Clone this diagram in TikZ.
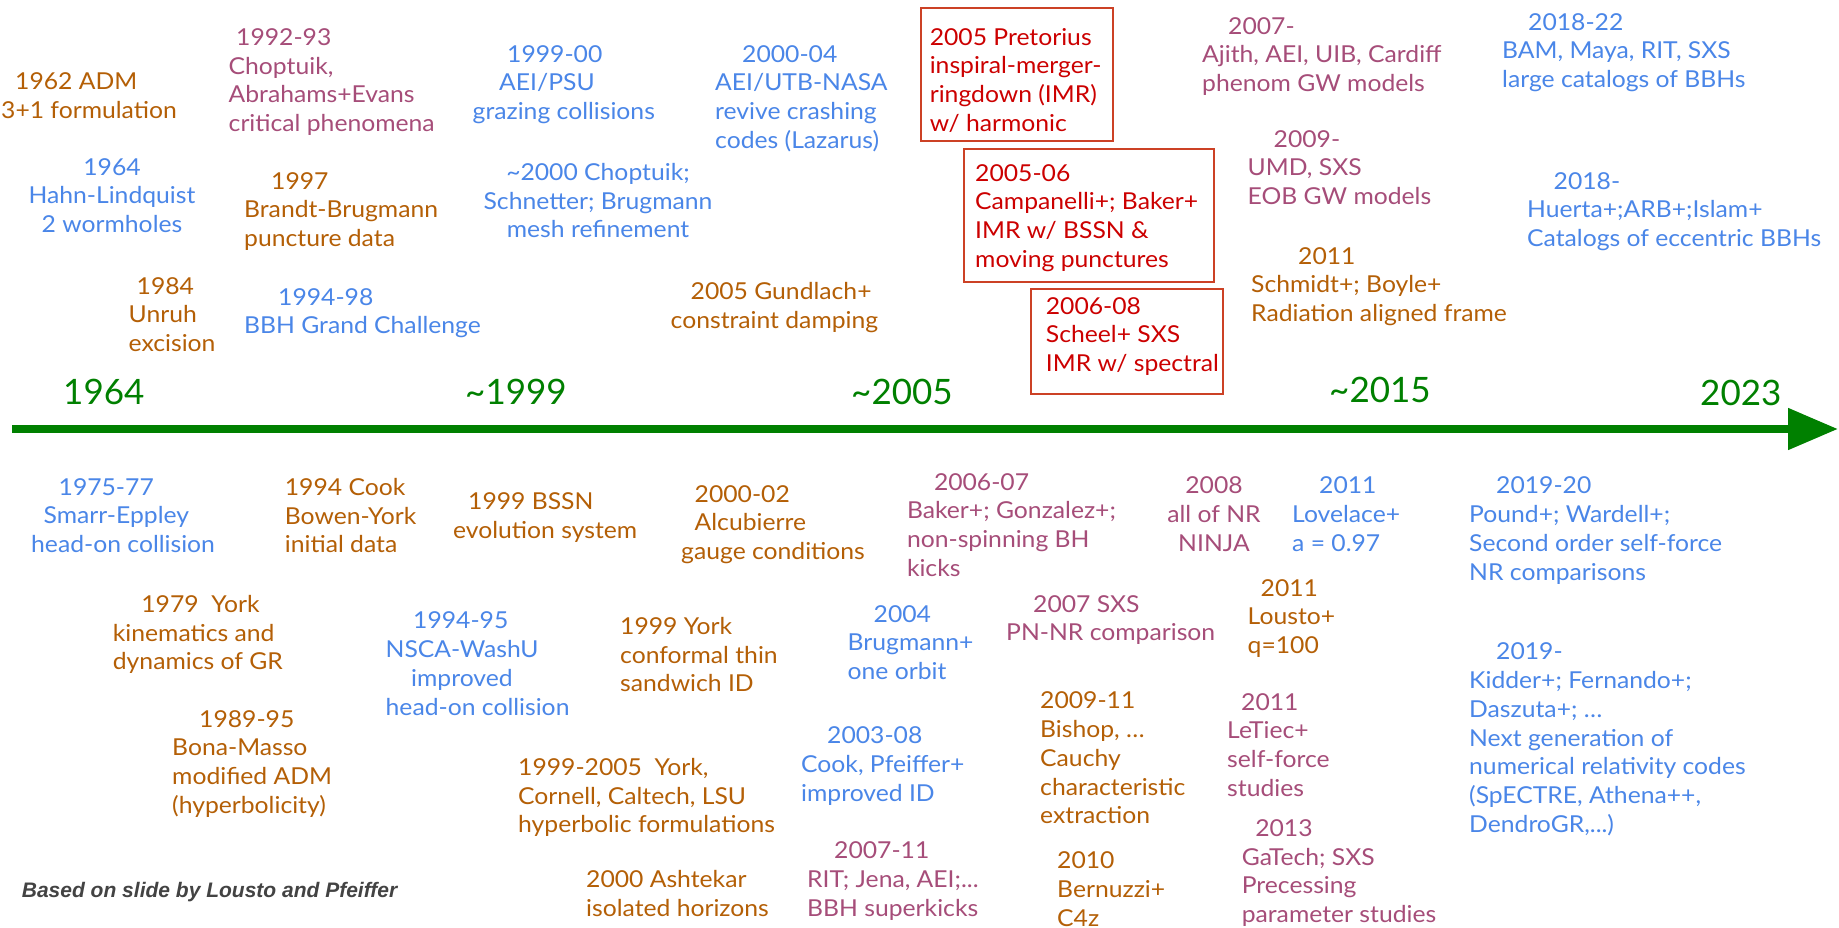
\documentclass[tikz,border=0pt]{standalone}
\usepackage{fontspec}
\setmainfont{Lato}
\newfontfamily\evtfamily{Lato}[FakeStretch=1.06]
\newfontfamily\creditfont{Liberation Sans}
\usepackage{xcolor}
\usepackage{tikz}
\usetikzlibrary{arrows.meta}
\definecolor{nrorange}{HTML}{B45F06}
\definecolor{nrblue}{HTML}{4A86E8}
\definecolor{nrmagenta}{HTML}{A64D79}
\definecolor{nrred}{HTML}{CC0000}
\definecolor{nrframe}{HTML}{CC4125}
\definecolor{nrgreen}{HTML}{008000}
\definecolor{nrgray}{HTML}{434343}
\newcommand{\evtfont}{\evtfamily\fontsize{23.3}{28.8}\selectfont}
\newcommand{\erafont}{\fontsize{35}{40}\selectfont}
\newcommand{\ind}[1]{\hspace*{#1pt}}

\begin{document}
\begin{tikzpicture}[x=1pt, y=-1pt,
    evt/.style={anchor=north west, inner sep=0pt, align=left, text=#1, font=\evtfont},
    evtc/.style={evt=#1, anchor=north, align=center},
    era/.style={anchor=north west, inner sep=0pt, text=nrgreen, font=\erafont},
    imrbox/.style={draw=nrframe, line width=1.8pt, anchor=north west, inner sep=0pt},
]
    \fill[white] (0,0) rectangle (1839,928);
    \useasboundingbox (0,0) rectangle (1839,928);

    % time axis
    \coordinate (tstart) at (12,429);
    \coordinate (tend) at (1838,429);
    \draw[line width=8pt, nrgreen, -{Triangle[length=50pt, width=40pt]}] (tstart) -- (tend);
    \node[era] (era1964) at (63,379) {1964};
    \node[era] (era1999) at (465,379) {\textasciitilde1999};
    \node[era] (era2005) at (851,379) {\textasciitilde2005};
    \node[era] (era2015) at (1329,377) {\textasciitilde2015};
    \node[era] (era2023) at (1700,380) {2023};

    % above the axis
    \node[evt=nrorange] (adm) at (1,72.7) {\ind{14}1962 ADM\\3+1 formulation};
    \node[evtc=nrblue] (hahn) at (112,158) {1964\\Hahn-Lindquist\\2 wormholes};
    \node[evt=nrorange] (unruh) at (128.5,277) {\ind{8}1984\\Unruh\\excision};
    \node[evt=nrmagenta] (choptuik) at (228.5,28.3) {\ind{7.5}1992-93\\Choptuik,\\Abrahams+Evans\\critical phenomena};
    \node[evt=nrorange] (puncture) at (244,172) {\ind{27}1997\\Brandt-Brugmann\\puncture data};
    \node[evt=nrblue] (grand) at (244,288) {\ind{34}1994-98\\BBH Grand Challenge};
    \node[evt=nrblue] (grazing) at (472.5,45) {\ind{34.5}1999-00\\\ind{26.5}AEI/PSU\\grazing collisions};
    \node[evtc=nrblue] (mesh) at (598,163) {\textasciitilde2000 Choptuik;\\Schnetter; Brugmann\\mesh refinement};
    \node[evt=nrblue] (lazarus) at (715,45) {\ind{27}2000-04\\AEI/UTB-NASA\\revive crashing\\codes (Lazarus)};
    \node[evt=nrorange] (damping) at (670.5,282) {\ind{20}2005 Gundlach+\\constraint damping};

    % breakthrough boxes
    \node[imrbox, minimum width=192pt, minimum height=133pt] (pretframe) at (920,7) {};
    \node[evt=nrred] (pretorius) at (929.6,28) {2005 Pretorius\\inspiral-merger-\\ringdown (IMR)\\w/ harmonic};
    \node[imrbox, minimum width=250pt, minimum height=133pt] (punctframe) at (963,148) {};
    \node[evt=nrred] (moving) at (975,164) {2005-06\\Campanelli+; Baker+\\IMR w/ BSSN \&\\moving punctures};
    \node[imrbox, minimum width=192pt, minimum height=105pt] (specframe) at (1030,288) {};
    \node[evt=nrred] (spectral) at (1045.7,297) {2006-08\\Scheel+ SXS\\IMR w/ spectral};

    \node[evt=nrmagenta] (phenom) at (1202,17) {\ind{26}2007-\\Ajith, AEI, UIB, Cardiff\\phenom GW models};
    \node[evt=nrmagenta] (eob) at (1247.5,130) {\ind{26}2009-\\UMD, SXS\\EOB GW models};
    \node[evt=nrorange] (frame) at (1251,247) {\ind{47}2011\\Schmidt+; Boyle+\\Radiation aligned frame};
    \node[evt=nrblue] (catalogs) at (1502,13) {\ind{26}2018-22\\BAM, Maya, RIT, SXS\\large catalogs of BBHs};
    \node[evt=nrblue] (eccentric) at (1527,172) {\ind{26.5}2018-\\Huerta+;ARB+;Islam+\\Catalogs of eccentric BBHs};

    % below the axis
    \node[evt=nrblue] (smarr) at (31,478) {\ind{27.5}1975-77\\\ind{12.5}Smarr-Eppley\\head-on collision};
    \node[evt=nrorange] (cook) at (284.7,478) {1994 Cook\\Bowen-York\\initial data};
    \node[evt=nrorange] (bssn) at (453,492.7) {\ind{15}1999 BSSN\\evolution system};
    \node[evt=nrorange] (york) at (112.7,595) {\ind{28.5}1979\ \ York\\kinematics and\\dynamics of GR};
    \node[evt=nrblue] (washu) at (385.5,611.7) {\ind{27.5}1994-95\\NSCA-WashU\\\ind{25.5}improved\\head-on collision};
    \node[evt=nrorange] (bona) at (172,710) {\ind{27}1989-95\\Bona-Masso\\modified ADM\\(hyperbolicity)};
    \node[evt=nrorange] (hyper) at (518,758) {1999-2005\ \ York,\\Cornell, Caltech, LSU\\hyperbolic formulations};
    \node[evt=nrorange] (ashtekar) at (586,870) {2000 Ashtekar\\isolated horizons};
    \node[evt=nrorange] (gauge) at (681,485) {\ind{13.5}2000-02\\\ind{13.5}Alcubierre\\gauge conditions};
    \node[evt=nrmagenta] (kicks) at (906.8,473) {\ind{27}2006-07\\Baker+; Gonzalez+;\\non-spinning BH\\kicks};
    \node[evtc=nrmagenta] (ninja) at (1214,476.7) {2008\\all of NR\\NINJA};
    \node[evt=nrorange] (sandwich) at (620,617) {1999 York\\conformal thin\\sandwich ID};
    \node[evt=nrblue] (orbit) at (847.5,605) {\ind{26}2004\\Brugmann+\\one orbit};
    \node[evt=nrmagenta] (pnnr) at (1006,595) {\ind{27}2007 SXS\\PN-NR comparison};
    \node[evt=nrblue] (improved) at (801,726.7) {\ind{26}2003-08\\Cook, Pfeiffer+\\improved ID};
    \node[evt=nrorange] (cauchy) at (1040,691.7) {2009-11\\Bishop, …\\Cauchy\\characteristic\\extraction};
    \node[evt=nrmagenta] (superkicks) at (807,841.7) {\ind{27}2007-11\\RIT; Jena, AEI;...\\BBH superkicks};
    \node[evt=nrorange] (cfour) at (1057,851.7) {2010\\Bernuzzi+\\C4z};
    \node[evt=nrblue] (lovelace) at (1292,476.7) {\ind{27}2011\\Lovelace+\\a = 0.97};
    \node[evt=nrorange] (lousto) at (1247.5,579) {\ind{13}2011\\Lousto+\\q=100};
    \node[evt=nrmagenta] (letiec) at (1227,693) {\ind{14}2011\\LeTiec+\\self-force\\studies};
    \node[evt=nrmagenta] (precess) at (1241.6,819.3) {\ind{13.5}2013\\GaTech; SXS\\Precessing\\parameter studies};
    \node[evt=nrblue] (second) at (1469,476.7) {\ind{27}2019-20\\Pound+; Wardell+;\\Second order self-force\\NR comparisons};
    \node[evt=nrblue] (nextgen) at (1469,642.7) {\ind{27}2019-\\Kidder+; Fernando+;\\Daszuta+; …\\Next generation of\\numerical relativity codes\\(SpECTRE, Athena++,\\DendroGR,...)};

    % credit
    \node[anchor=north west, inner sep=0pt, text=nrgray, font=\creditfont\bfseries\itshape\fontsize{21}{24}\selectfont] (credit) at (21.7,881.7) {Based on slide by Lousto and Pfeiffer};
\end{tikzpicture}
\end{document}
